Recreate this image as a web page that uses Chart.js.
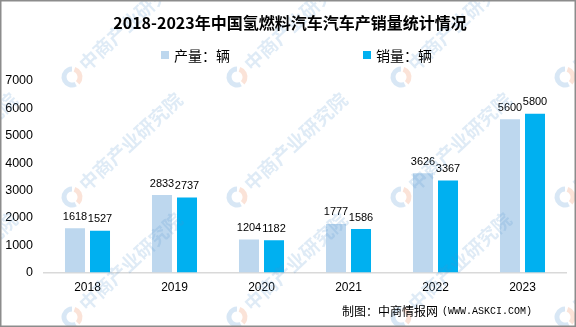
<!DOCTYPE html>
<html>
<head>
<meta charset="utf-8">
<script src="https://cdn.jsdelivr.net/npm/chart.js@4.4.1/dist/chart.umd.min.js"></script>
<style>
  html, body { margin: 0; padding: 0; background: #fff; }
  #wrap { width: 576px; height: 327px; position: relative; }
</style>
</head>
<body>
<div id="wrap"><canvas id="c" width="576" height="327"></canvas></div>
<script>
// 2018-2023 hydrogen fuel vehicle production and sales (units)
const years = ['2018', '2019', '2020', '2021', '2022', '2023'];
const production = [1618, 2833, 1204, 1777, 3626, 5600];
const sales = [1527, 2737, 1182, 1586, 3367, 5800];
const seriesNames = ['产量：辆', '销量：辆'];
const seriesColors = ['#BDD7EE', '#00B0F0'];

const titleText = '2018-2023年中国氢燃料汽车汽车产销量统计情况';
const sourceLead = '制图：中商情报网';
const sourceSite = '(WWW.ASKCI.COM)';
const watermarkText = '中商产业研究院';

const CJK = '"Noto Sans CJK SC", "Noto Sans", sans-serif';
const NUM = '"Liberation Sans", Arial, sans-serif';
const MONO = '"Liberation Mono", "DejaVu Sans Mono", monospace';

// Faint repeated brand watermark across the canvas
const watermarkPlugin = {
  id: 'watermark',
  afterDraw(chart) {
    const ctx = chart.ctx;
    const xs = [-93, 72, 237, 401, 565];
    const ys = [-43, 77, 197, 317];
    ctx.save();
    for (const cx of xs) {
      for (const cy of ys) {
        ctx.globalAlpha = 0.24;
        ctx.lineWidth = 5;
        ctx.strokeStyle = '#5a9bd5';
        ctx.beginPath();
        ctx.arc(cx, cy, 8, Math.PI * 0.35, Math.PI * 1.5);
        ctx.stroke();
        ctx.strokeStyle = '#f08a5d';
        ctx.beginPath();
        ctx.arc(cx, cy, 8, Math.PI * 1.6, Math.PI * 0.25);
        ctx.stroke();
        ctx.globalAlpha = 0.18;
        ctx.fillStyle = '#4f8fcf';
        ctx.save();
        ctx.translate(cx + 10, cy - 10);
        ctx.rotate(-43 * Math.PI / 180);
        ctx.font = 'bold 19px ' + CJK;
        ctx.textAlign = 'left';
        ctx.textBaseline = 'middle';
        ctx.fillText(watermarkText, 0, 0);
        ctx.restore();
      }
    }
    ctx.restore();
  }
};

// Title, legend, source note and frame
const decorPlugin = {
  id: 'decor',
  afterDraw(chart) {
    const ctx = chart.ctx;
    ctx.save();
    ctx.fillStyle = '#000';
    ctx.textBaseline = 'middle';

    ctx.font = 'bold 16px ' + CJK;
    ctx.textAlign = 'center';
    ctx.fillText(titleText, 290, 23);

    const legendX = [161, 363];
    ctx.font = '14px ' + CJK;
    ctx.textAlign = 'left';
    chart.data.datasets.forEach((ds, i) => {
      ctx.fillStyle = ds.backgroundColor;
      ctx.fillRect(legendX[i], 51, 8, 8);
      ctx.fillStyle = '#000';
      ctx.fillText(ds.label, legendX[i] + 13, 55.5);
    });

    ctx.font = '12px ' + CJK;
    ctx.fillText(sourceLead, 342, 311);
    ctx.font = '10px ' + MONO;
    ctx.fillText(sourceSite, 442, 311);

    ctx.strokeStyle = '#8c8c8c';
    ctx.lineWidth = 1.5;
    ctx.strokeRect(0.75, 0.75, 574.5, 325.5);
    ctx.restore();
  }
};

// Value labels above each bar
const valueLabelPlugin = {
  id: 'valueLabels',
  afterDatasetsDraw(chart) {
    const ctx = chart.ctx;
    ctx.save();
    ctx.fillStyle = '#000';
    ctx.font = '11px ' + NUM;
    ctx.textAlign = 'center';
    ctx.textBaseline = 'bottom';
    chart.data.datasets.forEach((ds, di) => {
      chart.getDatasetMeta(di).data.forEach((bar, i) => {
        ctx.fillText(String(ds.data[i]), bar.x, bar.y - 6);
      });
    });
    ctx.restore();
  }
};

new Chart(document.getElementById('c'), {
  type: 'bar',
  data: {
    labels: years,
    datasets: [
      { label: seriesNames[0], data: production, backgroundColor: seriesColors[0] },
      { label: seriesNames[1], data: sales, backgroundColor: seriesColors[1] }
    ]
  },
  options: {
    responsive: false,
    animation: false,
    devicePixelRatio: 1,
    layout: { padding: { top: 81, left: 4, right: 10, bottom: 30.5 } },
    datasets: {
      bar: { categoryPercentage: 0.575, barPercentage: 0.8 }
    },
    plugins: {
      legend: { display: false },
      title: { display: false },
      tooltip: { enabled: false }
    },
    scales: {
      x: {
        grid: { display: false, drawTicks: false },
        border: { display: true, color: '#d9d9d9', width: 1.5 },
        ticks: { color: '#000', font: { family: NUM, size: 12 }, padding: 8 },
        afterFit(scale) { scale.height = 24; }
      },
      y: {
        min: 0,
        max: 7000,
        grid: { display: false, drawTicks: false },
        border: { display: false },
        ticks: {
          stepSize: 1000,
          color: '#000',
          font: { family: NUM, size: 12.5 },
          padding: 11,
          callback: (v) => String(v)
        },
        afterFit(scale) { scale.width = 40; }
      }
    }
  },
  plugins: [valueLabelPlugin, watermarkPlugin, decorPlugin]
});
</script>
</body>
</html>
